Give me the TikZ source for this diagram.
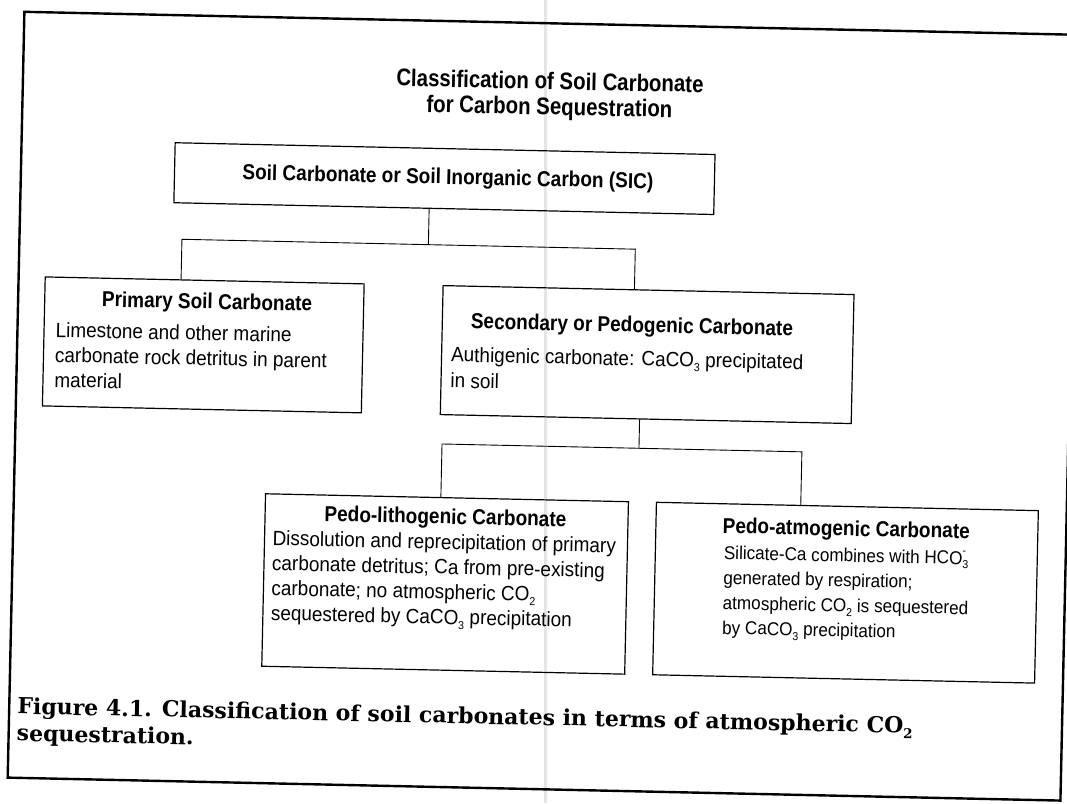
\documentclass[tikz,border=0pt]{standalone}
\usepackage{fontspec}
\newfontfamily\helv[FakeStretch=0.92]{Liberation Sans}
\newfontfamily\helvb[FakeStretch=0.88]{Liberation Sans Bold}
\newfontfamily\helvc[FakeStretch=0.85]{Liberation Sans Bold}
\newfontfamily\capfont{DejaVu Serif}
\newcommand\sbs[1]{\raisebox{-0.45ex}{\fontsize{11.5}{11.5}\selectfont #1}}
\newcommand\csbs[1]{\raisebox{-0.45ex}{\fontsize{13.5}{13.5}\selectfont #1}}
\newcommand\hcominus{\makebox[0pt][l]{\raisebox{1.0ex}{\fontsize{11}{11}\selectfont -}}\sbs{3}}
\begin{document}
\begin{tikzpicture}[x=1pt,y=-1pt,
  box/.style={draw, line width=1.2pt, inner sep=0pt, anchor=north west},
  conn/.style={line width=0.9pt},
  bigttl/.style={font=\helvc\fontsize{24}{24}\selectfont, inner sep=0pt, anchor=base},
  ttl/.style={font=\helvb\fontsize{21.6}{21.6}\selectfont, inner sep=0pt, anchor=base},
  txt/.style={font=\helv\fontsize{20.6}{20.6}\selectfont, inner sep=0pt, anchor=base west},
  stxt/.style={font=\helv\fontsize{18.6}{18.6}\selectfont, inner sep=0pt, anchor=base west},
  captxt/.style={font=\capfont\bfseries\fontsize{22}{22}\selectfont, inner sep=0pt, anchor=base west}]
\useasboundingbox (0,0) rectangle (1067,803);
\fill[white] (0,0) rectangle (1067,803);
\draw[black!10, line width=3pt] (545,0) -- (545,803);
\begin{scope}[rotate around={-1.25:(533.5,401.5)}, transform shape]
  \draw[line width=2.4pt] (16,23) rectangle (1069,789);
  % title
  \node[bigttl] (t1) at (543,89) {Classification of Soil Carbonate};
  \node[bigttl] (t2) at (543,114.5) {for Carbon Sequestration};
  % boxes
  \node[box, minimum width=540pt, minimum height=60pt] (sic) at (169,150) {};
  \node[box, minimum width=319pt, minimum height=129pt] (prim) at (42,287) {};
  \node[box, minimum width=411pt, minimum height=129pt] (sec) at (440,287) {};
  \node[box, minimum width=363pt, minimum height=172.5pt] (lith) at (267,499) {};
  \node[box, minimum width=382pt, minimum height=172.5pt] (atmo) at (658,499) {};
  % texts
  \node[ttl] (sict) at (443,186) {Soil Carbonate or Soil Inorganic Carbon (SIC)};
  \node[ttl] (pt) at (205,316) {Primary Soil Carbonate};
  \node[txt] (p1) at (54,347.5) {Limestone and other marine};
  \node[txt] (p2) at (54,372.5) {carbonate rock detritus in parent};
  \node[txt] (p3) at (54,397.5) {material};
  \node[ttl, anchor=base west] (st) at (469,330) {Secondary or Pedogenic Carbonate};
  \node[txt] (s1) at (450,363.5) {Authigenic carbonate: CaCO\sbs{3} precipitated};
  \node[txt] (s2) at (450,389.5) {in soil};
  \node[ttl] (lt) at (448,526) {Pedo-lithogenic Carbonate};
  \node[txt] (l1) at (275.5,551) {Dissolution and reprecipitation of primary};
  \node[txt] (l2) at (275.5,576) {carbonate detritus; Ca from pre-existing};
  \node[txt] (l3) at (275.5,601) {carbonate; no atmospheric CO\sbs{2}};
  \node[txt] (l4) at (275.5,626) {sequestered by CaCO\sbs{3} precipitation};
  \node[ttl] (at) at (849,529) {Pedo-atmogenic Carbonate};
  \node[stxt] (a1) at (727,555) {Silicate-Ca combines with HCO\hcominus};
  \node[stxt] (a2) at (727,580) {generated by respiration;};
  \node[stxt] (a3) at (727,605) {atmospheric CO\sbs{2} is sequestered};
  \node[stxt] (a4) at (727,630) {by CaCO\sbs{3} precipitation};
  % caption
  \node[captxt] (c1) at (24,725) {Figure 4.1. Classification of soil carbonates in terms of atmospheric CO\csbs{2}};
  \node[captxt] (c2) at (24,752) {sequestration.};
  % connectors
  \coordinate (j1) at (425,247);
  \coordinate (jl) at (178.5,247);
  \coordinate (jr) at (632,247);
  \draw[conn] (sic.south -| j1) -- (j1);
  \draw[conn] (prim.north -| jl) -- (jl) -- (jr) -- (sec.north -| jr);
  \coordinate (j2) at (640,446);
  \coordinate (kl) at (443,446);
  \coordinate (kr) at (803,446);
  \draw[conn] (sec.south -| j2) -- (j2);
  \draw[conn] (lith.north -| kl) -- (kl) -- (kr) -- (atmo.north -| kr);
\end{scope}
\end{tikzpicture}
\end{document}
